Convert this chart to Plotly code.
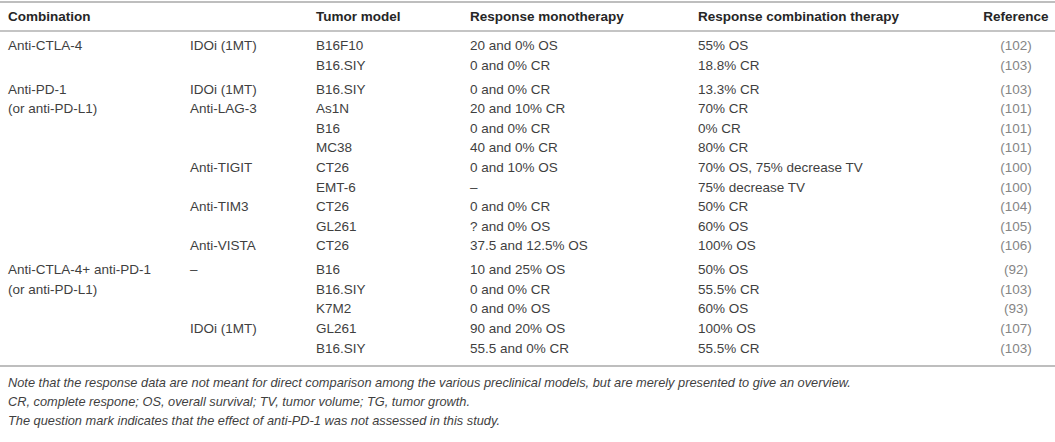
import plotly.graph_objects as go

headers = ["Combination", "", "Tumor model", "Response monotherapy",
           "Response combination therapy", "Reference"]

group = [0, 0, 1, 1, 1, 1, 1, 1, 1, 1, 1, 2, 2, 2, 2, 2]

combination = ["Anti-CTLA-4", "", "Anti-PD-1", "(or anti-PD-L1)", "", "", "", "", "", "", "",
               "Anti-CTLA-4+ anti-PD-1", "(or anti-PD-L1)", "", "", ""]
partner = ["IDOi (1MT)", "", "IDOi (1MT)", "Anti-LAG-3", "", "", "Anti-TIGIT", "", "Anti-TIM3", "",
           "Anti-VISTA", "–", "", "", "IDOi (1MT)", ""]
tumor_model = ["B16F10", "B16.SIY", "B16.SIY", "As1N", "B16", "MC38", "CT26", "EMT-6", "CT26",
               "GL261", "CT26", "B16", "B16.SIY", "K7M2", "GL261", "B16.SIY"]
mono = ["20 and 0% OS", "0 and 0% CR", "0 and 0% CR", "20 and 10% CR", "0 and 0% CR",
        "40 and 0% CR", "0 and 10% OS", "–", "0 and 0% CR", "? and 0% OS", "37.5 and 12.5% OS",
        "10 and 25% OS", "0 and 0% CR", "0 and 0% OS", "90 and 20% OS", "55.5 and 0% CR"]
combo = ["55% OS", "18.8% CR", "13.3% CR", "70% CR", "0% CR", "80% CR",
         "70% OS, 75% decrease TV", "75% decrease TV", "50% CR", "60% OS", "100% OS",
         "50% OS", "55.5% CR", "60% OS", "100% OS", "55.5% CR"]
reference = ["(102)", "(103)", "(103)", "(101)", "(101)", "(101)", "(100)", "(100)", "(104)",
             "(105)", "(106)", "(92)", "(103)", "(93)", "(107)", "(103)"]

notes = [
    "Note that the response data are not meant for direct comparison among the various preclinical models, but are merely presented to give an overview.",
    "CR, complete respone; OS, overall survival; TV, tumor volume; TG, tumor growth.",
    "The question mark indicates that the effect of anti-PD-1 was not assessed in this study.",
]

# layout geometry (pixel-like data units)
W, H = 1055, 442
col_x = [8, 190, 316, 470, 698]
ref_x = 1016
header_y = 17.5
first_y = 46.8
row_step = 19.6
group_gap = 4.2
rule_top, rule_head, rule_bottom = 2, 31, 366

row_y = [first_y + i * row_step + g * group_gap for i, g in enumerate(group)]
note_y = [383.5 + k * 19 for k in range(len(notes))]

FONT = "Liberation Sans, Arial, sans-serif"
TXT = "#3f3f3f"
REF = "#858585"
FS = 13.5

fig = go.Figure()

# header
fig.add_trace(go.Scatter(
    x=col_x, y=[header_y] * len(col_x), text=[f"<b>{h}</b>" for h in headers[:5]],
    mode="text", textposition="middle right", cliponaxis=False,
    textfont=dict(family=FONT, size=FS, color="#262626"), hoverinfo="skip", showlegend=False))
fig.add_trace(go.Scatter(
    x=[ref_x], y=[header_y], text=[f"<b>{headers[5]}</b>"],
    mode="text", textposition="middle center", cliponaxis=False,
    textfont=dict(family=FONT, size=FS, color="#262626"), hoverinfo="skip", showlegend=False))

# body columns
for cx, col in zip(col_x, [combination, partner, tumor_model, mono, combo]):
    fig.add_trace(go.Scatter(
        x=[cx] * len(col), y=row_y, text=col, mode="text", textposition="middle right",
        cliponaxis=False,
        textfont=dict(family=FONT, size=FS, color=TXT), hoverinfo="skip", showlegend=False))
fig.add_trace(go.Scatter(
    x=[ref_x] * len(reference), y=row_y, text=reference, mode="text",
    textposition="middle center", cliponaxis=False,
    textfont=dict(family=FONT, size=FS, color=REF), hoverinfo="skip", showlegend=False))

# notes
fig.add_trace(go.Scatter(
    x=[col_x[0]] * len(notes), y=note_y, text=[f"<i>{n}</i>" for n in notes], mode="text",
    textposition="middle right", cliponaxis=False,
    textfont=dict(family=FONT, size=12.8, color=TXT), hoverinfo="skip", showlegend=False))

# rules
for yy, c in [(rule_top, "#a8a8a8"), (rule_head, "#b0b0b0"), (rule_bottom, "#a8a8a8")]:
    fig.add_shape(type="line", x0=0, x1=W, y0=yy, y1=yy, xref="x", yref="y",
                  line=dict(color=c, width=1.5))

fig.update_layout(
    width=W, height=H, margin=dict(l=0, r=0, t=0, b=0),
    paper_bgcolor="white", plot_bgcolor="white",
    xaxis=dict(range=[0, W], visible=False, fixedrange=True),
    yaxis=dict(range=[H, 0], visible=False, fixedrange=True),
)

fig.write_html("out.html", config={"displayModeBar": False},
               post_script="document.body.style.margin='0px';")
